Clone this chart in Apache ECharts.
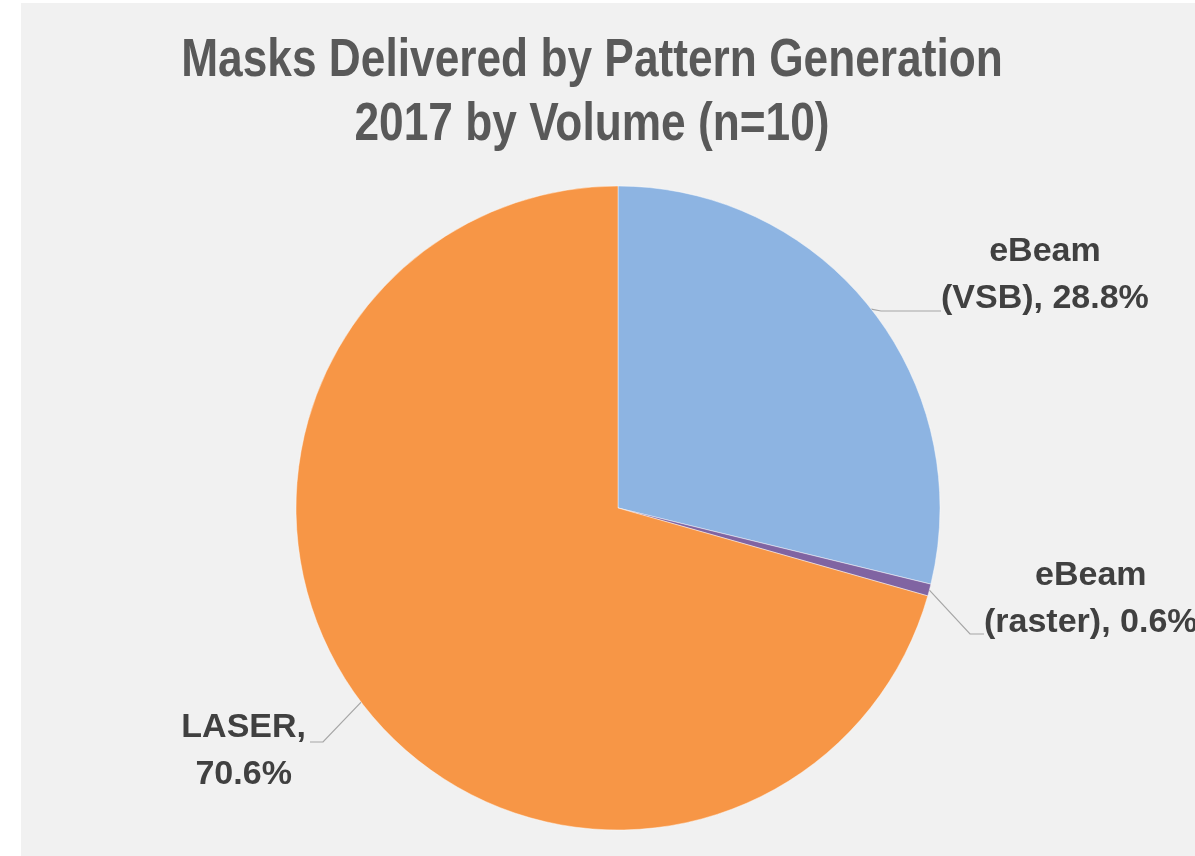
<!DOCTYPE html>
<html>
<head>
<meta charset="utf-8">
<script src="https://cdn.jsdelivr.net/npm/echarts@6/dist/echarts.min.js"></script>
<style>
  html, body { margin: 0; padding: 0; background: #ffffff; }
  #chart { position: absolute; left: 21px; top: 3px; width: 1174px; height: 853px; background: #f1f1f1; }
</style>
</head>
<body>
<div id="chart"></div>
<script>
// Share of masks by pattern generation technology (percent, 2017, by volume)
const categories = ['eBeam (VSB)', 'eBeam (raster)', 'LASER'];
const shares = [28.8, 0.6, 70.6];
// Label lines as they read in the chart
const labelHeads = ['eBeam', 'eBeam', 'LASER,'];
const labelTails = ['(VSB), ', '(raster), ', ''];
const colors = ['#8db4e2', '#8064a2', '#f79646'];
const titleLines = ['Masks Delivered by Pattern Generation', '2017 by Volume (n=10)'];

const FONT = '"Liberation Sans", Arial, sans-serif';

const chart = echarts.init(document.getElementById('chart'), null, { renderer: 'canvas' });

// label placement: x, y (top of the box), horizontal anchor, padding
const labelPlace = [
  { x: 920, y: 225, align: 'left', padding: [0, 0, 72, 0] },
  { x: 963, y: 549, align: 'left', padding: [0, 0, 70, 0] },
  { x: 289, y: 683, align: 'right', padding: [18, 4, 0, 0] }
];

const data = categories.map((name, i) => ({
  name: name,
  value: shares[i],
  itemStyle: { color: colors[i] },
  label: { padding: labelPlace[i].padding },
  labelLine: { length2: i === 0 ? 60 : (i === 1 ? 14 : 13) }
}));

chart.setOption({
  animation: false,
  backgroundColor: '#f1f1f1',
  // condensed bold heading
  graphic: [{
    type: 'text',
    x: 571,
    y: 26,
    scaleX: 0.835,
    silent: true,
    style: {
      text: titleLines.join('\n'),
      fontFamily: FONT,
      fontSize: 53,
      fontWeight: 'bold',
      fill: '#595959',
      lineHeight: 64,
      align: 'center',
      verticalAlign: 'top'
    }
  }],
  series: [{
    type: 'pie',
    center: [597, 505],
    radius: 322,
    startAngle: 90,
    clockwise: true,
    avoidLabelOverlap: false,
    emphasis: { disabled: true },
    itemStyle: { borderColor: 'rgba(255,255,255,0.55)', borderWidth: 0.8 },
    label: {
      show: true,
      position: 'outside',
      backgroundColor: 'rgba(0,0,0,0)',
      formatter: function (p) {
        const i = p.dataIndex;
        return '{a|' + labelHeads[i] + '}\n{a|' + labelTails[i] + shares[i].toFixed(1) + '%}';
      },
      rich: {
        a: {
          fontFamily: FONT,
          fontSize: 34,
          fontWeight: 'bold',
          color: '#404040',
          lineHeight: 47,
          align: 'center'
        }
      }
    },
    labelLine: {
      show: true,
      length: 10,
      length2: 13,
      lineStyle: { color: '#a6a6a6', width: 1.2 }
    },
    labelLayout: function (params) {
      const p = labelPlace[params.dataIndex];
      return {
        x: p.x,
        y: p.y,
        align: p.align,
        verticalAlign: 'top'
      };
    },
    data: data
  }]
});
</script>
</body>
</html>
